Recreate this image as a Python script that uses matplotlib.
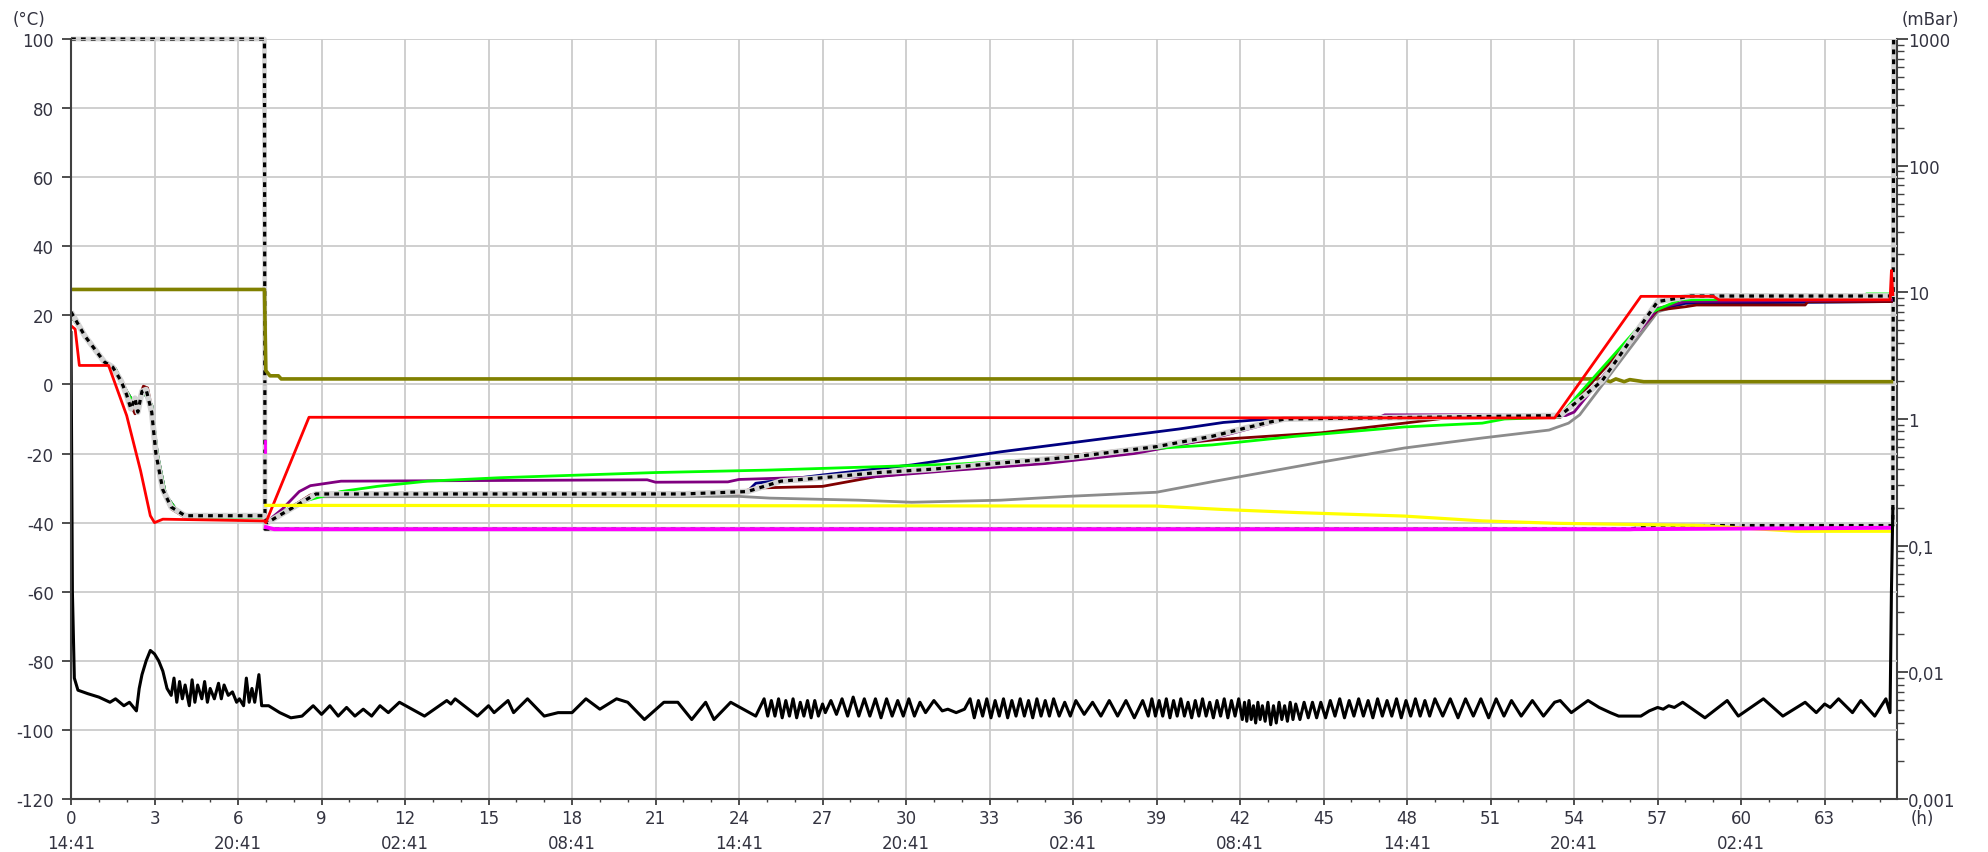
import matplotlib
matplotlib.use('Agg')
import matplotlib.pyplot as plt
from matplotlib.ticker import FixedLocator, FixedFormatter, LogLocator, NullFormatter

# ---- axis labels / ticks ----
x_ticks = list(range(0, 64, 3))
x_labels = ['0\n14:41', '3', '6\n20:41', '9', '12\n02:41', '15', '18\n08:41', '21',
            '24\n14:41', '27', '30\n20:41', '33', '36\n02:41', '39', '42\n08:41', '45',
            '48\n14:41', '51', '54\n20:41', '57', '60\n02:41', '63']
y_ticks = [-120, -100, -80, -60, -40, -20, 0, 20, 40, 60, 80, 100]
y_labels = ['-120', '-100', '-80', '-60', '-40', '-20', '0', '20', '40', '60', '80', '100']
p_ticks = [0.001, 0.01, 0.1, 1, 10, 100, 1000]
p_labels = ['0,001', '0,01', '0,1', '1', '10', '100', '1000']

# ---- temperature series (h, degC) ----
early_t = [0.0, 0.5, 1.2, 1.6, 2.0, 2.3, 2.6, 2.9, 3.1, 3.4, 3.8, 4.3, 6.95]
early_v = [20, 14, 6.5, 4.5, -2, -6, -2, -6, -20, -32, -36.5, -38.5, -38.5]

red_t = [0.0, 0.15, 0.3, 1.35, 2.0, 2.5, 2.85, 3.0, 3.3, 6.95, 7.0, 8.55, 53.3, 56.4, 59.0, 59.2, 65.35, 65.4, 65.45]
red_v = [17, 16, 5.5, 5.5, -9, -25, -38, -40, -39, -39.5, -40, -9.5, -9.7, 25.5, 25.5, 24.5, 24.5, 33, 26]

olive_t = [0.0, 6.95, 7.0, 7.15, 7.45, 7.55, 55.0, 55.3, 55.5, 55.8, 56.0, 56.5, 65.4]
olive_v = [27.5, 27.5, 4, 2.5, 2.5, 1.6, 1.6, 0.8, 1.6, 0.8, 1.4, 0.8, 0.8]

hatch_t = [0.0, 0.5, 1.2, 1.5, 1.8, 2.0, 2.15, 2.3, 2.4, 2.55, 2.7, 2.9, 3.05, 3.3, 3.6, 4.1, 6.95, 7.05,
           8.8, 22.0, 24.3, 25.5, 27.0, 29.0, 31.0, 33.0, 36.0, 39.0, 41.0, 43.0, 43.6, 53.5, 55.0, 57.0, 58.2, 65.4]
hatch_v = [21, 14, 6.5, 5, 1, -3, -7, -4, -8, -2, -1.5, -8, -20, -30.5, -35.5, -38, -38, -40,
           -31.7, -31.7, -31, -28, -27, -25.5, -24.5, -23, -21, -18, -15, -11, -10, -9, 1, 24, 25.6, 25.6]

green_t = [7.0, 7.8, 8.5, 9.7, 11.0, 12.8, 15.4, 18.0, 21.0, 25.0, 29.0, 32.0, 35.0, 38.0, 41.0, 44.0,
           47.9, 50.7, 51.5, 53.4, 53.6, 56.8, 57.8, 64.4, 64.5, 65.4]
green_v = [-40, -36, -33.5, -31, -29.5, -28, -27, -26.3, -25.5, -24.8, -23.8, -23, -21.5, -19, -17.5, -15,
           -12.3, -11.2, -10, -9.5, -8, 21, 24.5, 25, 26.2, 26.2]

navy_t = [7.0, 7.8, 8.6, 21.9, 24.3, 24.6, 27.0, 30.2, 33.4, 36.6, 39.8, 41.4, 42.2, 43.0, 53.5, 56.9, 58.0, 65.4]
navy_v = [-40, -36, -32.2, -31.5, -31, -28.6, -26.2, -23.3, -19.5, -16.2, -12.9, -11, -10.5, -10, -9.5, 21.5, 23.5, 24]

darkred_t = [0.0, 0.5, 1.2, 1.5, 1.9, 2.1, 2.3, 2.45, 2.6, 2.75, 2.9, 3.05, 3.3, 3.6, 4.1, 6.95, 7.05,
             8.6, 24.0, 24.5, 27.0, 28.9, 31.8, 35.0, 38.2, 41.1, 44.9, 47.9, 49.6, 53.5, 57.0, 58.0,
             58.4, 62.3, 62.4, 65.4]
darkred_v = [20, 14, 6.5, 5, 0, -5, -8.5, -4, -0.5, -1, -7, -20, -31, -36, -38.5, -38.5, -40,
             -32, -31.5, -30, -29.5, -26.7, -24.3, -21.4, -18.6, -16, -14, -11.2, -9.5, -9.5, 21.5, 22.5,
             23, 23, 24, 24]

purple_t = [7.0, 7.6, 8.2, 8.6, 9.7, 20.7, 21.0, 23.6, 24.0, 26.0, 28.9, 31.8, 35.0, 38.2, 39.8, 41.4,
            43.0, 43.6, 47.0, 47.2, 50.0, 53.7, 54.0, 57.0, 58.0, 65.4]
purple_v = [-40, -36, -31, -29.3, -28, -27.6, -28.3, -28.2, -27.5, -27, -26.7, -24.8, -22.9, -20, -17.6, -14.8,
            -11.4, -10.2, -9.5, -8.8, -8.8, -9, -8, 22, 24, 24.5]

gray_t = [7.0, 7.8, 8.8, 24.0, 25.1, 28.3, 30.2, 33.4, 35.8, 39.0, 41.1, 44.9, 47.9, 50.7, 53.1, 53.8,
          54.2, 57.0, 58.0, 65.4]
gray_v = [-40, -36, -32.5, -32.4, -32.9, -33.5, -34.1, -33.5, -32.4, -31.2, -28, -22.5, -18.4, -15.5, -13.2, -11.2,
          -8.8, 21, 23.5, 24]

yellow_t = [7.0, 39.0, 41.4, 44.1, 47.9, 50.7, 53.4, 58.5, 62.0, 65.4]
yellow_v = [-35, -35.2, -36.2, -37.1, -38.1, -39.5, -40.2, -40.8, -42.5, -42.5]

magenta_t = [7.0, 7.3, 56.0, 65.4]
magenta_v = [-41.3, -41.9, -41.9, -41.5]

mark_t = [6.97, 6.97]
mark_v = [-16.5, -19.5]

black_t = [0.0, 0.05, 0.12, 0.25, 0.6, 1.0, 1.4, 1.6, 1.9, 2.1, 2.35, 2.45, 2.55, 2.7, 2.85, 3.0, 3.15, 3.3,
           3.45, 3.6, 3.7, 3.8, 3.9, 4.0, 4.1, 4.25, 4.35, 4.45, 4.55, 4.7, 4.8, 4.9, 5.0, 5.15, 5.3, 5.4,
           5.5, 5.65, 5.8, 5.95, 6.05, 6.2, 6.3, 6.4, 6.5, 6.6, 6.75, 6.85, 7.1, 7.5, 7.9, 8.3, 8.7, 9.0,
           9.3, 9.6, 9.9, 10.2, 10.5, 10.8, 11.1, 11.4, 11.8, 12.7, 13.5, 13.65, 13.8, 14.6, 15.0, 15.2,
           15.7, 15.9, 16.4, 17.0, 17.5, 18.0, 18.5, 19.0, 19.6, 20.0, 20.6, 21.3, 21.8, 22.3, 22.8, 23.1,
           23.7, 24.6,
           24.9, 25.03, 25.16, 25.29, 25.42, 25.55, 25.68, 25.81, 25.94, 26.07, 26.2, 26.33, 26.46, 26.59,
           26.72, 26.85, 27.0, 27.1,
           27.3, 27.5, 27.7, 27.9, 28.1, 28.3, 28.5, 28.7, 28.9, 29.1, 29.3, 29.5, 29.7, 29.9, 30.1, 30.3,
           30.5, 30.7, 31.0, 31.3, 31.5, 31.8, 32.1,
           32.3, 32.45, 32.6, 32.75, 32.9, 33.05, 33.2, 33.35, 33.5, 33.65, 33.8, 33.95, 34.1, 34.25, 34.4,
           34.55, 34.7, 34.85, 35.0, 35.15, 35.3, 35.5, 35.7, 35.9, 36.1, 36.4, 36.7, 37.0, 37.3, 37.6,
           37.9, 38.2, 38.5,
           38.7, 38.83, 38.96, 39.09, 39.22, 39.35, 39.48, 39.61, 39.74, 39.87, 40.0, 40.13, 40.26, 40.39,
           40.52, 40.65, 40.78, 40.91, 41.04, 41.17, 41.3, 41.43, 41.56, 41.69, 41.82, 41.95,
           42.08, 42.16, 42.24, 42.32, 42.4, 42.48, 42.56, 42.64, 42.72, 42.8, 42.9, 43.0, 43.1, 43.2,
           43.3, 43.4, 43.5, 43.6, 43.7, 43.8, 43.9, 44.0, 44.15, 44.3, 44.45, 44.6, 44.75, 44.9,
           45.07, 45.24, 45.41, 45.58, 45.75, 45.92, 46.09, 46.26, 46.43, 46.6, 46.77, 46.94, 47.11, 47.28,
           47.45, 47.62, 47.79, 47.96, 48.13, 48.3, 48.47, 48.64, 48.81, 49.0,
           49.28, 49.55, 49.83, 50.1, 50.38, 50.65, 50.93, 51.2, 51.48, 51.75, 52.1,
           52.5, 52.9, 53.3, 53.5, 53.9, 54.5, 54.9, 55.3, 55.6, 56.4, 56.7, 57.0, 57.2, 57.4, 57.6, 57.9,
           58.7, 59.5, 59.9, 60.8, 61.5, 62.3, 62.7, 63.0, 63.2, 63.5, 64.0, 64.3, 64.8, 65.2, 65.35,
           65.4, 65.45]
black_v = [15, -60, -85, -88.5, -89.5, -90.5, -92, -91, -93, -92, -94.5, -88, -84, -80, -77, -78, -80, -83,
           -88, -90, -85, -92, -86, -91, -87, -93, -85.5, -92, -87, -91, -86, -92, -88, -91, -86.5, -91,
           -87, -90, -89, -92, -91, -93, -85, -92, -88, -92, -84, -93, -93, -95, -96.5, -96, -93, -95.5,
           -93, -96, -93.5, -96, -94, -96, -93, -95, -92, -96, -91.5, -92.5, -91, -96, -93, -95,
           -91.5, -95, -91, -96, -95, -95, -91, -94, -91, -92, -97, -92, -92, -97, -92, -97,
           -92, -96,
           -91, -96, -91.5, -96, -91, -96.5, -91.5, -96, -91, -96.5, -92, -96, -91.5, -96.5,
           -91.5, -96, -92.5, -95,
           -91.5, -95.5, -91, -96, -90.5, -96, -91, -96, -91, -96.5, -91, -96, -91.5, -96, -91, -96,
           -92, -95, -91.5, -94.5, -94, -95, -94,
           -91, -96.5, -91.5, -96, -91, -96.5, -91.5, -96, -91, -96.5, -91.5, -96, -91, -96, -91.5,
           -96.5, -91, -96, -91.5, -96, -91, -96, -92, -96, -91.5, -95.5, -92, -96, -91.5, -96,
           -91.5, -96.5, -91.5,
           -96, -91, -96, -91.5, -96, -91, -96.5, -91.5, -96, -91, -96, -92, -96.5, -91.5,
           -96, -91, -96, -92, -96.5, -91.5, -96, -91, -96.5, -91.5, -96, -91,
           -97, -92, -97.5, -91.5, -97, -93, -98, -92, -97, -93, -97.5, -92, -98.5, -93,
           -98, -92, -97, -93, -97.5, -92, -97, -92.5, -97, -92, -96.5, -92, -96.5, -92,
           -96.5, -91.5, -96, -91, -96.5, -91.5, -96, -91, -96, -91.5, -96.5, -91, -96, -91.5,
           -96, -91, -96.5, -91.5, -96, -91, -96, -91.5, -96, -91,
           -96, -91, -96.5, -91, -96, -91, -96.5, -91, -96, -91.5, -96,
           -91.5, -96, -92, -91.5, -95, -91.5, -93.5, -95, -96, -96, -94.5, -93.5, -94, -93, -93.5, -92,
           -96.5, -91.5, -96, -91, -96, -92, -95, -92.5, -93.5, -91, -95, -91.5, -96, -91, -95,
           -60, -36]

# ---- pressure (h, mbar) ----
press_t = [0.0, 6.95, 6.97, 56.0, 57.0, 65.45, 65.48]
press_v = [1000, 1000, 0.135, 0.135, 0.145, 0.145, 1000]

txt = '#333340'
axc = '#404040'
hatch_dash = (0, (1.5, 1.6))

fig = plt.figure(figsize=(19.88, 8.53), dpi=100)
ax2 = fig.add_axes([71 / 1988, 1 - 800 / 853, (1897 - 71) / 1988, 760 / 853])
ax = fig.add_axes(ax2.get_position(), sharex=ax2)
ax.set_zorder(ax2.get_zorder() + 1)
ax.patch.set_visible(False)

# pressure on log axis, drawn below temperatures
ax2.set_yscale('log')
ax2.set_ylim(0.001, 1000)
ax2.plot(press_t, press_v, color='#d4d4d4', lw=3.4, clip_on=False, solid_capstyle='butt')
ax2.plot(press_t, press_v, color='black', lw=2.3, ls=hatch_dash, clip_on=False)

ax.plot(olive_t, olive_v, color='#808000', lw=2.6)
ax.plot(early_t + gray_t, early_v + gray_v, color='#8c8c8c', lw=2.0)
ax.plot(early_t + navy_t, early_v + navy_v, color='#000080', lw=2.0)
ax.plot(darkred_t, darkred_v, color='#800000', lw=2.0)
ax.plot(early_t + purple_t, early_v + purple_v, color='#800080', lw=2.0)
ax.plot(early_t + green_t, early_v + green_v, color='#00ff00', lw=2.0)
ax.plot(hatch_t, hatch_v, color='#d4d4d4', lw=4.2, solid_capstyle='butt')
ax.plot(hatch_t, hatch_v, color='black', lw=2.3, ls=hatch_dash)
ax.plot(red_t, red_v, color='#ff0000', lw=2.0)
ax.plot(yellow_t, yellow_v, color='#ffff00', lw=2.3)
ax.plot(magenta_t, magenta_v, color='#ff00ff', lw=2.8)
ax.plot(mark_t, mark_v, color='#ff00ff', lw=2.0)
ax.plot(black_t, black_v, color='black', lw=2.2)

ax.set_xlim(0, 65.6)
ax.set_ylim(-120, 100)

ax.xaxis.set_major_locator(FixedLocator(x_ticks))
ax.xaxis.set_major_formatter(FixedFormatter(x_labels))
ax.xaxis.set_minor_locator(FixedLocator(list(range(0, 66))))
ax.yaxis.set_major_locator(FixedLocator(y_ticks))
ax.yaxis.set_major_formatter(FixedFormatter(y_labels))

ax.grid(True, which='major', color='#cccccc', lw=1.3)
ax.set_axisbelow(True)

for a in (ax, ax2):
    a.spines['top'].set_visible(False)
ax.spines['right'].set_visible(False)
ax2.spines['left'].set_visible(False)
ax2.spines['bottom'].set_visible(False)
ax.spines['left'].set_color(axc)
ax.spines['bottom'].set_color(axc)
ax2.spines['right'].set_color(axc)
for s in ('left', 'bottom'):
    ax.spines[s].set_linewidth(1.5)
ax2.spines['right'].set_linewidth(1.5)

ax.tick_params(axis='y', direction='out', length=6.5, width=1.3, color=axc, labelsize=12,
               labelcolor=txt, pad=6)
ax.tick_params(axis='x', which='major', direction='out', length=4.5, width=1.3, color=axc,
               labelsize=12, labelcolor=txt, pad=3)
ax.tick_params(axis='x', which='minor', direction='out', length=2.5, width=1.0, color=axc)
ax2.tick_params(axis='x', which='both', bottom=False, labelbottom=False)
ax2.tick_params(axis='y', which='both', left=False, labelleft=False, right=True, labelright=True)
ax2.yaxis.set_major_locator(FixedLocator(p_ticks))
ax2.yaxis.set_major_formatter(FixedFormatter(p_labels))
ax2.yaxis.set_minor_locator(LogLocator(base=10, subs=[2, 3, 4, 5, 6, 7, 8, 9], numticks=20))
ax2.yaxis.set_minor_formatter(NullFormatter())
ax2.tick_params(axis='y', which='major', direction='out', length=8, width=1.3, color=axc,
                labelsize=12, labelcolor=txt, pad=0)
ax2.tick_params(axis='y', which='minor', direction='out', length=5, width=1.0, color=axc)

for lbl in ax.get_xticklabels():
    lbl.set_linespacing(1.45)

fig.text(13 / 1988, 1 - 20 / 853, '(°C)', fontsize=12, color=txt, ha='left', va='center')
fig.text(1902 / 1988, 1 - 20 / 853, '(mBar)', fontsize=12, color=txt, ha='left', va='center')
fig.text(1911 / 1988, 1 - 819 / 853, '(h)', fontsize=12, color=txt, ha='left', va='center')

fig.savefig('out.png', dpi=100)
